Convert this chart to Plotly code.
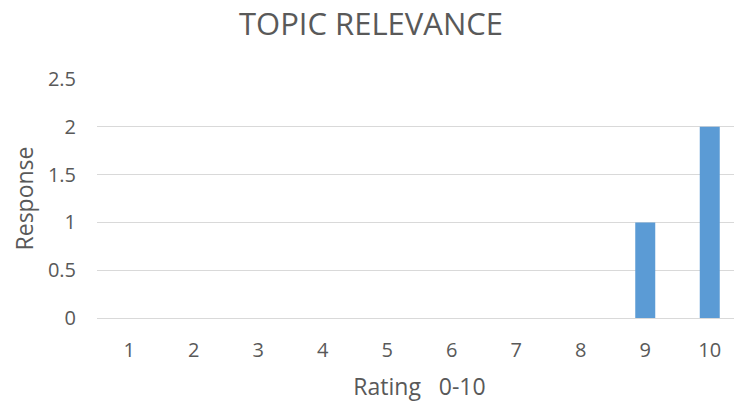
import plotly.graph_objects as go

categories = ["1", "2", "3", "4", "5", "6", "7", "8", "9", "10"]
responses = [0, 0, 0, 0, 0, 0, 0, 0, 1, 2]
y_ticks = [0, 0.5, 1, 1.5, 2, 2.5]
y_tick_labels = ["0", "0.5", "1", "1.5", "2", "2.5"]

font = "Open Sans, Liberation Sans, sans-serif"
txt = "#595959"
fig = go.Figure(go.Bar(x=categories, y=responses, marker_color="#5B9BD5", marker_line_width=0))
fig.update_layout(
    width=742, height=405,
    margin=dict(l=89, r=8, t=71, b=95),
    plot_bgcolor="white", paper_bgcolor="white",
    bargap=0.69,
    showlegend=False,
    title=dict(text="TOPIC RELEVANCE", x=363 / 742, xref="container", y=1 - 16 / 405, yref="container",
               xanchor="center", yanchor="middle",
               font=dict(family=font, size=31, color=txt)),
    font=dict(family=font, color=txt),
)
fig.update_xaxes(type="category", tickfont=dict(size=20, color=txt), showgrid=False,
                 showline=False, ticks="outside", ticklen=14, tickcolor="white",
                 title=dict(text="Rating   0-10", font=dict(size=23, color=txt), standoff=16))
fig.update_yaxes(range=[0, 2.5], tickvals=y_ticks, ticktext=y_tick_labels,
                 showgrid=True, gridcolor="#D9D9D9", gridwidth=1,
                 zeroline=True, zerolinecolor="#D9D9D9", zerolinewidth=1,
                 tickfont=dict(size=20, color=txt), ticks="outside", ticklen=16, tickcolor="white",
                 title=dict(text="Response", font=dict(size=23, color=txt), standoff=8))
fig.write_html("out.html")
